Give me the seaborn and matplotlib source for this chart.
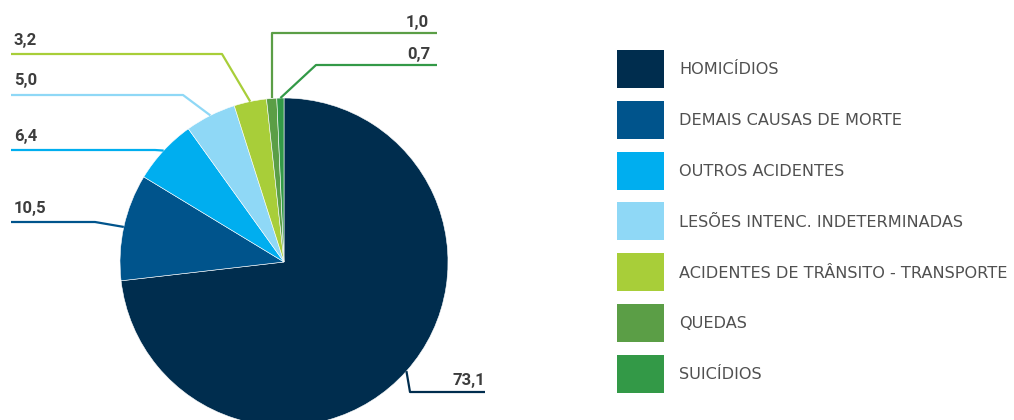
import numpy as np
import matplotlib
matplotlib.use("Agg")
import matplotlib.pyplot as plt
from matplotlib.patches import Rectangle
import seaborn as sns

# Causes of death and their shares (%)
categories = [
    "HOMICÍDIOS",
    "DEMAIS CAUSAS DE MORTE",
    "OUTROS ACIDENTES",
    "LESÕES INTENC. INDETERMINADAS",
    "ACIDENTES DE TRÂNSITO - TRANSPORTE",
    "QUEDAS",
    "SUICÍDIOS",
]
shares = [73.1, 10.5, 6.4, 5.0, 3.2, 1.0, 0.7]
value_labels = ["73,1", "10,5", "6,4", "5,0", "3,2", "1,0", "0,7"]
colors = ["#002d4e", "#00548c", "#00aeef", "#8fd8f6", "#a8ce39", "#5b9e46", "#339947"]

sns.set_theme(style="white")
plt.rcParams["font.family"] = ["DejaVu Sans"]

W, H = 1014, 420
fig = plt.figure(figsize=(W / 100, H / 100), dpi=100)
ax = fig.add_axes([0, 0, 1, 1])

center = (284, 262)
radius = 164

# y axis is inverted, so counterclock=True draws clockwise on screen
wedges, _ = ax.pie(
    shares,
    colors=colors,
    startangle=-90,
    counterclock=True,
    radius=radius,
    center=center,
    wedgeprops=dict(edgecolor="white", linewidth=0.4),
    frame=True,
)
ax.set_xlim(0, W)
ax.set_ylim(H, 0)  # pixel-style coordinates, y grows downward
ax.set_aspect("equal")
ax.set_axis_off()

# Leader-line layout: elbow point, end of horizontal run, label anchor
leaders = [
    dict(elbow=(410, 392), end=(485, 392), text=(485, 381), ha="right"),
    dict(elbow=(95, 222), end=(11, 222), text=(14, 209), ha="left"),
    dict(elbow=(155, 150), end=(11, 150), text=(14, 137), ha="left"),
    dict(elbow=(183, 95), end=(11, 95), text=(14, 81), ha="left"),
    dict(elbow=(222, 54), end=(11, 54), text=(14, 41), ha="left"),
    dict(elbow=None, end=(437, 33), text=(429, 22), ha="right"),
    dict(elbow=(316, 65), end=(437, 65), text=(431, 55), ha="right"),
]

for w, lab, col, ld in zip(wedges, value_labels, colors, leaders):
    mid = np.deg2rad((w.theta1 + w.theta2) / 2)
    ax_x = center[0] + radius * np.cos(mid)
    ax_y = center[1] + radius * np.sin(mid)
    if ld["elbow"] is None:
        xs = [ax_x, ax_x, ld["end"][0]]
        ys = [ax_y, ld["end"][1], ld["end"][1]]
    else:
        xs = [ax_x, ld["elbow"][0], ld["end"][0]]
        ys = [ax_y, ld["elbow"][1], ld["end"][1]]
    ax.plot(xs, ys, color=col, lw=1.6, solid_capstyle="butt", clip_on=False)
    ax.text(ld["text"][0], ld["text"][1], lab, ha=ld["ha"], va="center",
            fontsize=12, fontweight="bold", color="#3d3d3d",
            family=["Roboto", "DejaVu Sans"])

# Legend: square swatches with labels
leg_x, leg_y0, leg_step = 617, 50, 50.8
sw_w, sw_h = 47, 38
for i, (cat, col) in enumerate(zip(categories, colors)):
    y = leg_y0 + i * leg_step
    ax.add_patch(Rectangle((leg_x, y), sw_w, sw_h, facecolor=col,
                           edgecolor="none", clip_on=False))
    ax.text(679, y + sw_h / 2 + 1, cat, ha="left", va="center",
            fontsize=11.6, color="#505050", family=["DejaVu Sans"])

fig.savefig("out.png", dpi=100)
